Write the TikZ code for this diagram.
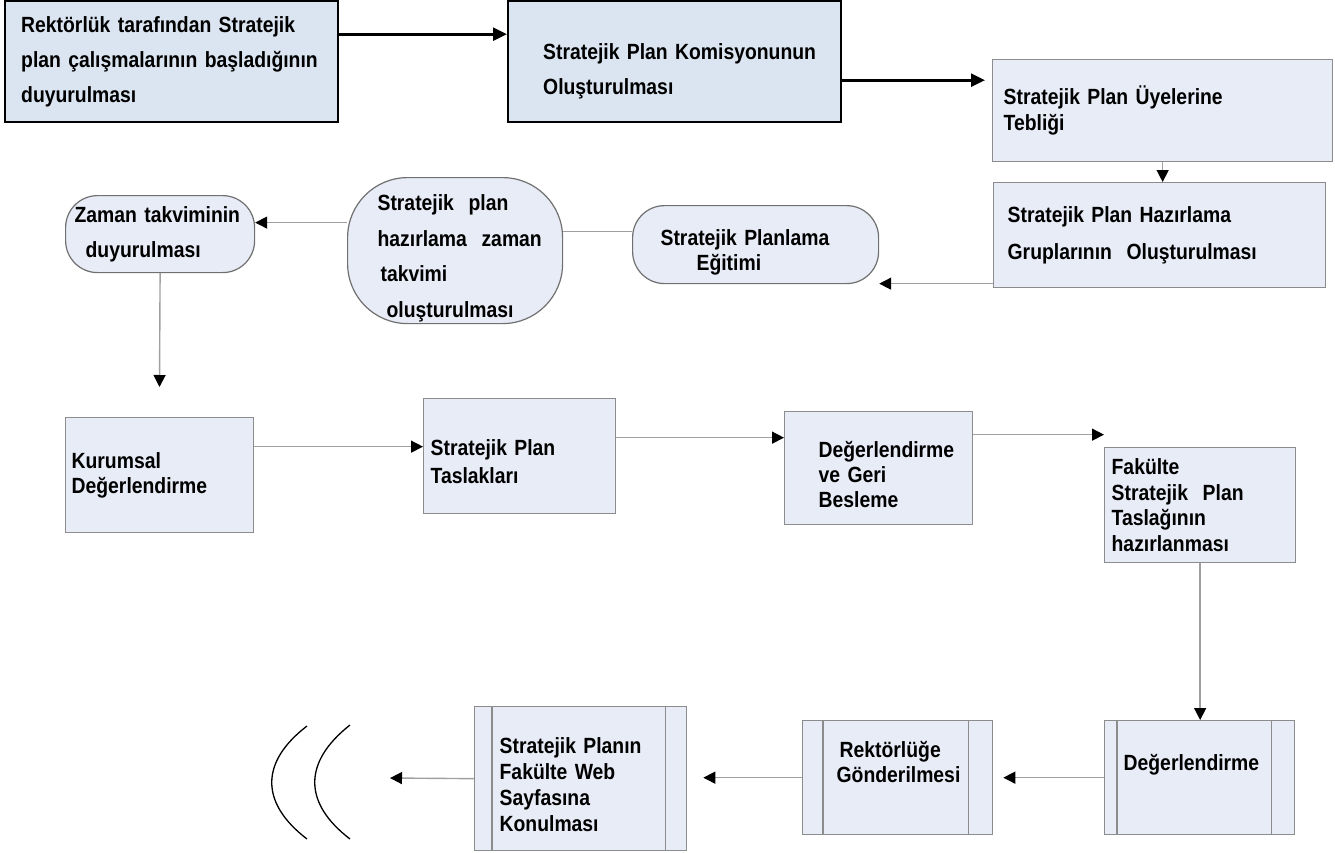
\documentclass[tikz,border=0pt]{standalone}
\usepackage{fontspec}
\setmainfont{Liberation Sans}[FakeStretch=0.88]
\usetikzlibrary{arrows.meta}
\definecolor{topfill}{HTML}{DBE5F1}
\definecolor{boxfill}{HTML}{E8ECF7}
\definecolor{boxgray}{HTML}{8C8C8C}
\definecolor{pillgray}{HTML}{707070}
\definecolor{linegray}{HTML}{A0A0A0}
\newcommand{\topgap}[1]{\rule{0pt}{#1}}
\newcommand{\botgap}[1]{\rule[-#1]{0pt}{0pt}}
\hyphenpenalty=10000
\exhyphenpenalty=10000

\begin{document}
\begin{tikzpicture}[
    x=1pt, y=-1pt,
    txt/.style={font=\fontsize{22}{#1}\selectfont\bfseries}, % text size and line spacing
    topbox/.style={draw=black, line width=2.4pt, fill=topfill, anchor=north west, align=left, inner ysep=0pt},
    stepbox/.style={draw=boxgray, line width=1.3pt, fill=boxfill, anchor=north west, align=left, inner ysep=0pt},
    pillbox/.style={draw=pillgray, line width=1.2pt, fill=boxfill, anchor=north west, align=left, inner ysep=0pt, rounded corners=#1},
    sideline/.style={draw=boxgray, line width=1.3pt},
    bigarrow/.style={line width=2.6pt, -{Triangle[length=14pt,width=13pt]}}, % top arrows
    conn/.style={draw=linegray, line width=1.4pt, -{Triangle[color=black,length=12pt,width=12pt]}},
    plain/.style={draw=linegray, line width=1.4pt}
]
    \fill[white] (0,0) rectangle (1335,852);
    \useasboundingbox (0,0) rectangle (1335,852);

    % Top row
    \node (rekt) [topbox, txt=35, minimum width=333pt, minimum height=121pt, text width=301pt, inner xsep=16pt] at (4,0)
        {Rektörlük tarafından Stratejik\\plan çalışmalarının başladığının\\duyurulması};
    \node (komis) [topbox, txt=35, minimum width=333pt, minimum height=121pt, text width=263pt, inner xsep=35pt] at (507,0)
        {\topgap{34.6pt}Stratejik~Plan~Komisyonunun\\Oluşturulması};
    \node (uye) [stepbox, txt=26, minimum width=340pt, minimum height=102pt, text width=318pt, inner xsep=11pt] at (992,59)
        {Stratejik Plan Üyelerine\\Tebliği};
    \node (grup) [stepbox, txt=37, minimum width=332pt, minimum height=105pt, text width=304pt, inner xsep=14pt] at (993,182)
        {Stratejik Plan Hazırlama\\Gruplarının~~Oluşturulması};

    % Second row
    \node (egitim) [pillbox=32pt, txt=25, minimum width=246pt, minimum height=78pt, text width=190pt, inner xsep=28pt] at (632,205)
        {\topgap{31.6pt}Stratejik Planlama\\\hspace*{36pt}Eğitimi};
    \node (takvim) [pillbox=60pt, txt=35.7, minimum width=215pt, minimum height=146pt, text width=155pt, inner xsep=30pt] at (347,177)
        {\topgap{31.6pt}Stratejik~~plan\\hazırlama~~zaman\\\hspace*{3pt}takvimi\\\hspace*{9pt}oluşturulması};
    \node (zaman) [pillbox=32pt, txt=35, minimum width=189pt, minimum height=77pt, text width=171pt, inner xsep=9pt] at (65,195)
        {Zaman takviminin\\\hspace*{11pt}duyurulması};

    % Third row
    \node (kurum) [stepbox, txt=25, minimum width=188pt, minimum height=115pt, text width=176pt, inner xsep=6pt] at (65,417)
        {Kurumsal\\Değerlendirme};
    \node (taslak) [stepbox, txt=28, minimum width=192pt, minimum height=115pt, text width=178pt, inner xsep=7pt] at (423,398)
        {\topgap{27pt}Stratejik Plan\\Taslakları};
    \node (geri) [stepbox, txt=25, minimum width=188pt, minimum height=113pt, text width=120pt, inner xsep=34pt] at (784,411)
        {\topgap{29pt}Değerlendirme\\ve Geri\\Besleme};
    \node (fakulte) [stepbox, txt=25.7, minimum width=191pt, minimum height=115pt, text width=177pt, inner xsep=7pt] at (1104,447)
        {Fakülte\\Stratejik~~Plan\\Taslağının\\hazırlanması};

    % Bottom row
    \node (deger) [stepbox, txt=25, minimum width=190pt, minimum height=114pt, text width=152pt, inner xsep=19pt] at (1104,720)
        {Değerlendirme\botgap{30.5pt}};
    \node (gonder) [stepbox, txt=25, minimum width=190pt, minimum height=114pt, text width=122pt, inner xsep=34pt] at (802,720)
        {\hspace*{3pt}Rektörlüğe\\Gönderilmesi\botgap{32.5pt}};
    \node (web) [stepbox, txt=26, minimum width=212pt, minimum height=144pt, text width=162pt, inner xsep=25pt] at (474,706)
        {\topgap{28pt}Stratejik Planın\\Fakülte Web\\Sayfasına\\Konulması};

    % Side lines of the process boxes
    \draw[sideline] ([xshift=13pt]deger.north west) -- ([xshift=13pt]deger.south west);
    \draw[sideline] ([xshift=-24pt]deger.north east) -- ([xshift=-24pt]deger.south east);
    \draw[sideline] ([xshift=21pt]gonder.north west) -- ([xshift=21pt]gonder.south west);
    \draw[sideline] ([xshift=-25pt]gonder.north east) -- ([xshift=-25pt]gonder.south east);
    \draw[sideline] ([xshift=18pt]web.north west) -- ([xshift=18pt]web.south west);
    \draw[sideline] ([xshift=-22pt]web.north east) -- ([xshift=-22pt]web.south east);

    % Connector start points
    \coordinate (k1) at ([yshift=-18.5pt]komis.east);
    \coordinate (g1) at ([yshift=-48.5pt]grup.west);
    \coordinate (e1) at ([yshift=13pt]egitim.west);
    \coordinate (t1) at ([yshift=28pt]takvim.west);
    \coordinate (zdown) at (159.5,387);
    \coordinate (k2) at ([yshift=28.5pt]kurum.east);
    \coordinate (t2) at ([yshift=18.5pt]taslak.east);
    \coordinate (g2) at ([yshift=33.5pt]geri.east);
    \coordinate (wend) at (390,778);

    % Arrows
    \draw[bigarrow] ([yshift=27.5pt]rekt.east) -- ([yshift=27.5pt]komis.west);
    \draw[bigarrow, shorten >=7pt] (k1) -- (k1 -| uye.west);
    \draw[conn] (uye.south) -- (uye.south |- grup.north);
    \draw[conn] (g1) -- (g1 -| egitim.east);
    \draw[plain] (e1) -- (e1 -| takvim.east);
    \draw[conn] (t1) -- (t1 -| zaman.east);
    \draw[conn] (zaman.south) -- (zdown);
    \draw[conn] (k2) -- (k2 -| taslak.west);
    \draw[conn] (t2) -- (t2 -| geri.west);
    \draw[conn] (g2) -- (g2 -| fakulte.west);
    \draw[conn] (fakulte.south) -- (fakulte.south |- deger.north);
    \draw[conn, shorten >=10pt] (deger.west) -- (deger.west -| gonder.east);
    \draw[conn, shorten >=16pt] (gonder.west) -- (gonder.west -| web.east);
    \draw[conn] (web.west) -- (wend);

    % Closing brackets
    \draw[line width=1.3pt] (307,726) .. controls (260,762) and (260,803) .. (307,839);
    \draw[line width=1.3pt] (350,725) .. controls (303,762) and (303,803) .. (350,839);

\end{tikzpicture}
\end{document}
